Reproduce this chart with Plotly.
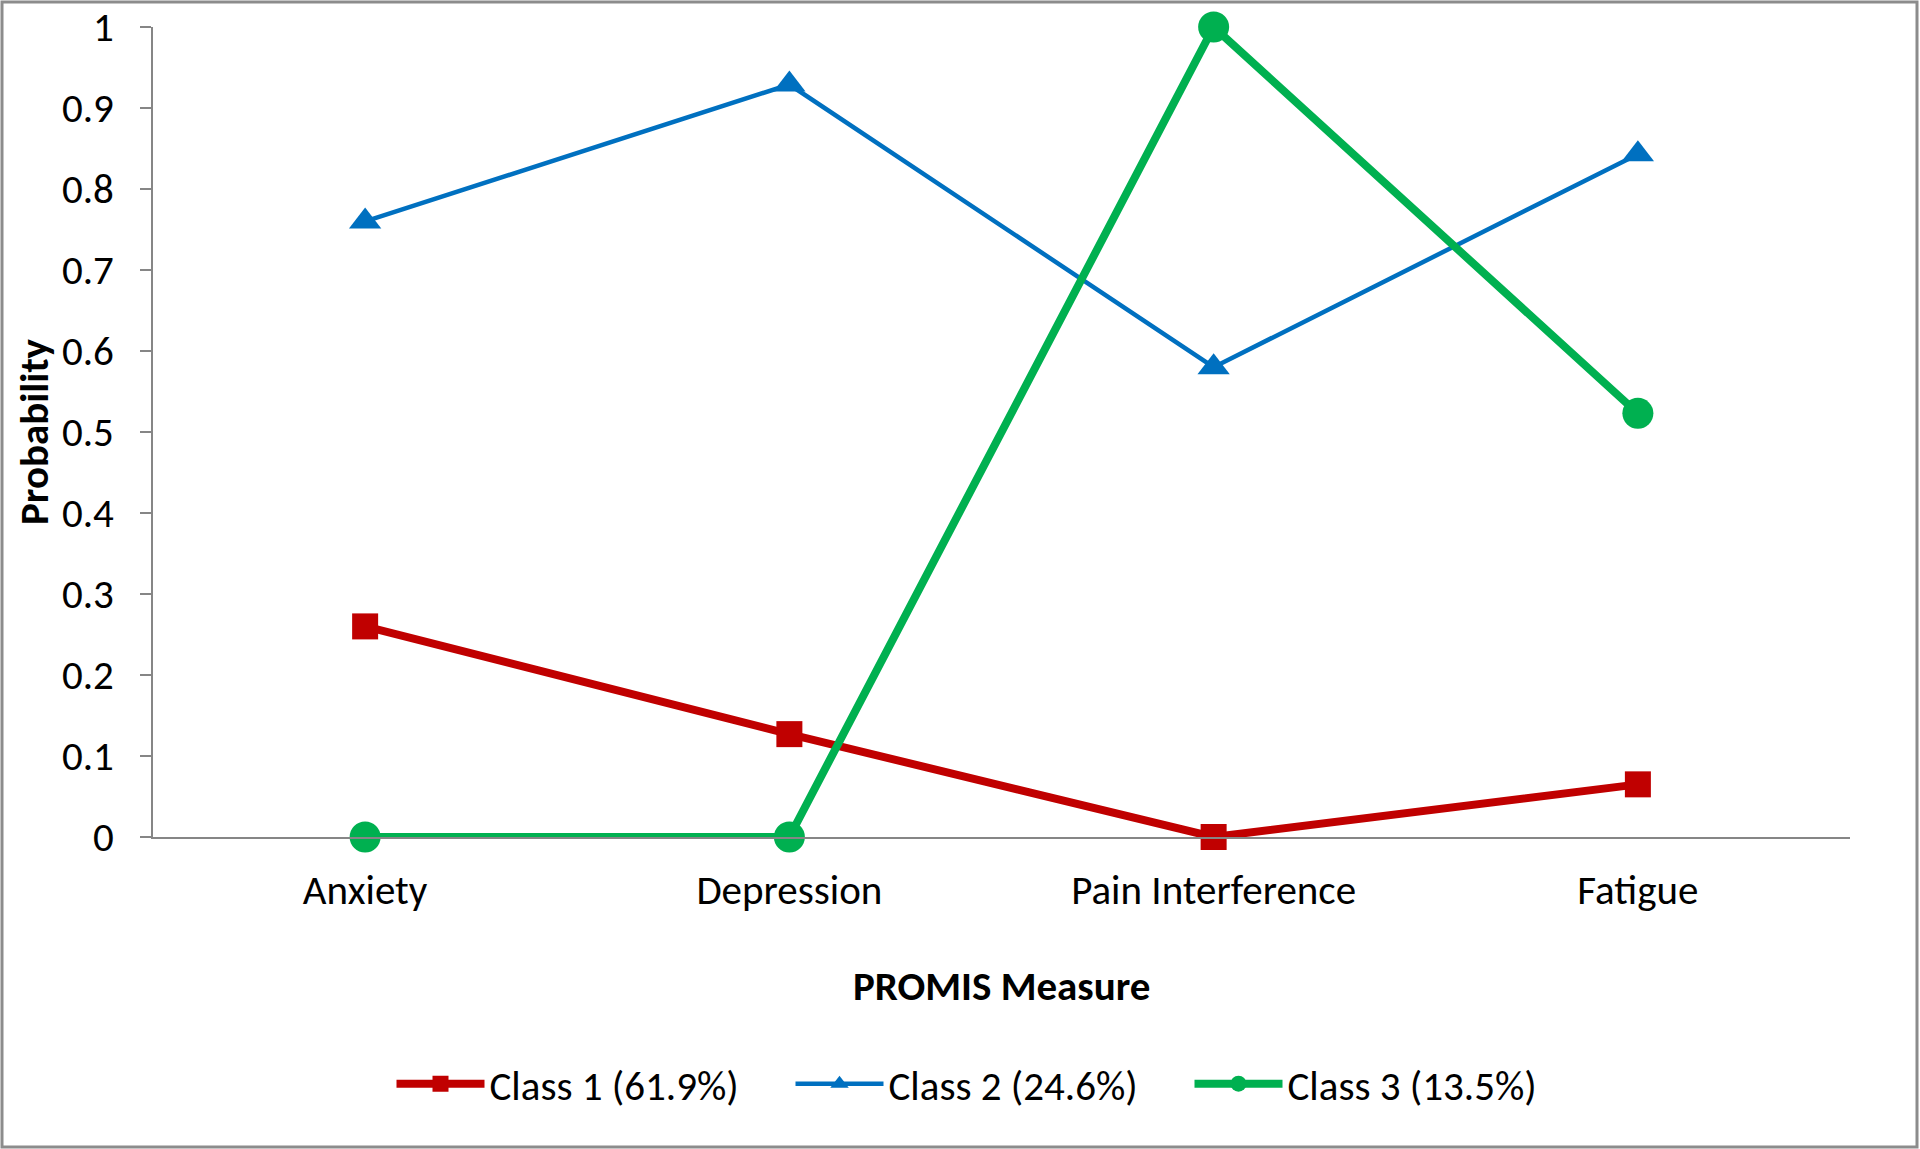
import plotly.graph_objects as go

categories = ["Anxiety", "Depression", "Pain Interference", "Fatigue"]
class1 = [0.26, 0.127, 0.0, 0.065]
class2 = [0.76, 0.929, 0.58, 0.843]
class3 = [0.0, 0.0, 1.0, 0.523]
series_names = ["Class 1 (61.9%)", "Class 2 (24.6%)", "Class 3 (13.5%)"]
y_tick_vals = [0, 0.1, 0.2, 0.3, 0.4, 0.5, 0.6, 0.7, 0.8, 0.9, 1]
y_tick_text = ["0", "0.1", "0.2", "0.3", "0.4", "0.5", "0.6", "0.7", "0.8", "0.9", "1"]

FONT = "Calibri, Carlito, Lato, 'Open Sans', sans-serif"
FS = 41
W, H = 1920, 1149
L, R, T, B = 153, 70, 27, 312

fig = go.Figure()
fig.add_trace(go.Scatter(x=categories, y=class1, name=series_names[0], mode="lines+markers",
                         line=dict(color="#C00000", width=8),
                         marker=dict(symbol="square", size=26, color="#C00000"), cliponaxis=False))
fig.add_trace(go.Scatter(x=categories, y=class2, name=series_names[1], mode="lines+markers",
                         line=dict(color="#0070C0", width=4.5),
                         marker=dict(symbol="triangle-up", size=28, color="#0070C0"), cliponaxis=False))
fig.add_trace(go.Scatter(x=categories, y=class3, name=series_names[2], mode="lines+markers",
                         line=dict(color="#00B050", width=8),
                         marker=dict(symbol="circle", size=31, color="#00B050"), cliponaxis=False))

pw = W - L - R
ph = H - T - B

fig.update_layout(
    width=W, height=H,
    margin=dict(l=L, r=R, t=T, b=B, pad=0, autoexpand=False),
    paper_bgcolor="white", plot_bgcolor="white",
    font=dict(family=FONT, size=FS, color="black"),
    showlegend=True,
    legend=dict(orientation="h", xref="container", yref="container", x=0.5 + 30 / W, y=1 - 1084 / H,
                xanchor="center", yanchor="middle", font=dict(size=FS, family=FONT),
                itemwidth=88, entrywidth=296, traceorder="normal"),
    xaxis=dict(type="category", range=[-0.5, 3.5], showline=True, linecolor="#868686", linewidth=2,
               showgrid=False, zeroline=False, ticks="", ticklabelstandoff=16, automargin=False,
               tickfont=dict(size=FS, family=FONT)),
    yaxis=dict(range=[0, 1], tickvals=y_tick_vals, ticktext=y_tick_text, showline=True,
               linecolor="#868686", linewidth=2, showgrid=False, zeroline=False, automargin=False,
               ticks="outside", ticklen=11, tickwidth=2, tickcolor="#868686",
               ticklabelstandoff=18, tickfont=dict(size=FS, family=FONT)),
    annotations=[
        dict(text="<b>PROMIS Measure</b>", xref="paper", yref="paper", x=0.5, y=(837 - 986) / ph,
             xanchor="center", yanchor="middle", showarrow=False, font=dict(size=FS, family=FONT)),
        dict(text="<b>Probability</b>", xref="paper", yref="paper", x=(34 - L) / pw, y=0.5,
             xanchor="center", yanchor="middle", textangle=-90, showarrow=False,
             font=dict(size=FS, family=FONT)),
    ],
    shapes=[
        dict(type="rect", xref="paper", yref="paper",
             x0=(2 - L) / pw, x1=(1917 - L) / pw, y0=(837 - 1147) / ph, y1=(837 - 2) / ph,
             line=dict(color="#8C8C8C", width=3), fillcolor="rgba(0,0,0,0)", layer="below"),
    ],
)

fig.write_html("out.html", config={"displayModeBar": False},
               post_script="document.body.style.margin='0';document.body.style.overflow='hidden';")
